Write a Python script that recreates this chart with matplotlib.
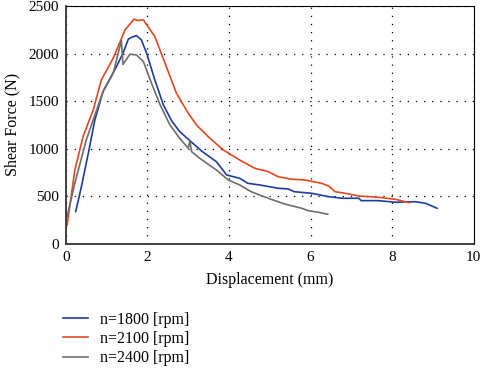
import matplotlib
matplotlib.use('Agg')
import matplotlib.pyplot as plt

# n=1800 rpm
x_1800 = [0.24, 0.38, 0.55, 0.71, 0.91, 1.24, 1.4, 1.53, 1.61, 1.73, 1.85, 1.98, 2.18, 2.39,
          2.59, 2.79, 3.04, 3.33, 3.69, 3.94, 4.26, 4.46, 4.75, 5.2, 5.45, 5.6, 6.03, 6.44,
          6.77, 7.18, 7.24, 7.67, 8.08, 8.57, 8.82, 9.1]
y_1800 = [340, 602, 953, 1303, 1600, 1863, 2003, 2150, 2170, 2188, 2143, 2003, 1723, 1460,
          1295, 1180, 1085, 975, 864, 725, 690, 637, 620, 585, 578, 549, 532, 497,
          480, 480, 455, 455, 438, 444, 427, 375]

# n=2100 rpm
x_2100 = [0.03, 0.22, 0.42, 0.67, 0.87, 1.16, 1.45, 1.67, 1.77, 1.9, 2.18, 2.43, 2.71, 3.0,
          3.2, 3.53, 3.86, 4.26, 4.63, 4.96, 5.2, 5.53, 5.86, 6.27, 6.44, 6.6, 6.85, 7.18,
          7.67, 8.08, 8.41]
y_2100 = [200, 777, 1127, 1408, 1723, 1951, 2248, 2360, 2346, 2353, 2178, 1898, 1583, 1373,
          1250, 1110, 987, 882, 795, 760, 707, 680, 672, 637, 609, 549, 532, 504,
          490, 469, 434]

# n=2400 rpm
x_2400 = [0.03, 0.22, 0.5, 0.91, 1.16, 1.36, 1.4, 1.57, 1.73, 1.9, 2.1, 2.3, 2.55, 2.79, 3.0,
          3.04, 3.08, 3.28, 3.69, 3.98, 4.26, 4.54, 4.96, 5.36, 5.78, 5.94, 6.19, 6.42]
y_2400 = [287, 638, 1093, 1600, 1793, 2136, 1885, 1993, 1985, 1915, 1688, 1470, 1250, 1110,
          1005, 1085, 970, 900, 777, 672, 620, 549, 480, 420, 375, 350, 333, 312]

labels = ["n=1800 [rpm]", "n=2100 [rpm]", "n=2400 [rpm]"]
colors = ["#1d3e9e", "#e8461e", "#6e6e6e"]

plt.rcParams['font.family'] = ['Liberation Serif', 'DejaVu Serif']
plt.rcParams['font.size'] = 11.5

fig = plt.figure(figsize=(4.81, 3.68), dpi=100)
ax = fig.add_axes([0.137, 0.337, 0.848, 0.647])

ax.plot(x_1800, y_1800, color=colors[0], lw=1.2, label=labels[0])
ax.plot(x_2100, y_2100, color=colors[1], lw=1.2, label=labels[1])
ax.plot(x_2400, y_2400, color=colors[2], lw=1.2, label=labels[2])

ax.set_xlim(0, 10)
ax.set_ylim(0, 2500)
ax.set_xticks([0, 2, 4, 6, 8, 10])
ax.set_yticks([0, 500, 1000, 1500, 2000, 2500])
ax.tick_params(length=0, pad=5, labelsize=11)
ax.grid(True, color='black', linestyle=(0, (1, 5.5)), linewidth=0.9)
for side in ['left', 'bottom']:
  ax.spines[side].set_linewidth(1.3)
  ax.spines[side].set_color('#333333')
for side in ['top', 'right']:
  ax.spines[side].set_linewidth(0.8)

ax.set_xlabel("Displacement (mm)", labelpad=6)
ax.set_ylabel("Shear Force (N)", labelpad=6)

fig.legend(loc='upper left', bbox_to_anchor=(0.118, 0.17),
           frameon=False, handlelength=1.55, handletextpad=0.75, labelspacing=0.2,
           borderaxespad=0.0, fontsize=11.5)

fig.savefig("out.png", dpi=100)
